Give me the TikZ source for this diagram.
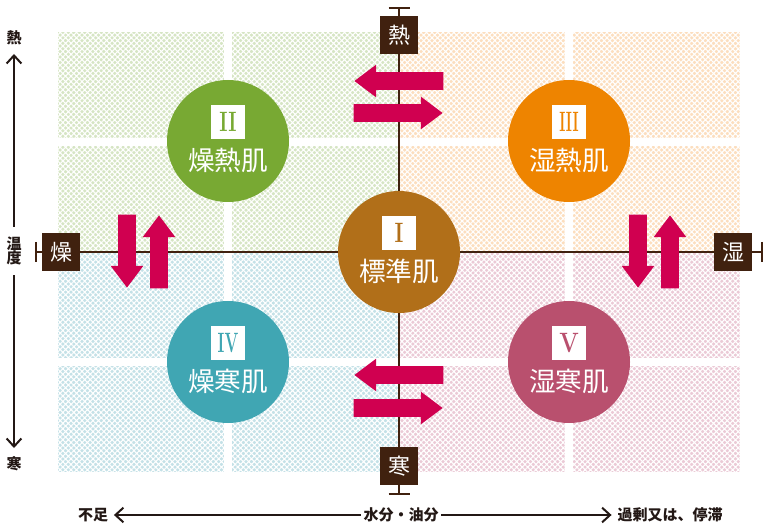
\documentclass[tikz,border=0pt]{standalone}
\usepackage{fontspec}
\usepackage{tikz}
\usetikzlibrary{
    shapes, shapes.arrows, shapes.geometric,
    arrows.meta, positioning, calc,
    patterns.meta
}
\newfontfamily\jpfont{Noto Sans CJK JP}
\definecolor{colGreen}{RGB}{120, 169, 51}
\definecolor{colOrange}{RGB}{238, 132, 0}
\definecolor{colBrown}{RGB}{177, 111, 25}
\definecolor{colTeal}{RGB}{64, 166, 179}
\definecolor{colRose}{RGB}{185, 80, 110}
\definecolor{colRed}{RGB}{208, 0, 80}
\definecolor{colInk}{RGB}{64, 33, 15}
\definecolor{colText}{RGB}{35, 24, 21}
\definecolor{tileGreen}{RGB}{214, 229, 196}
\definecolor{tileOrange}{RGB}{252, 222, 190}
\definecolor{tileBlue}{RGB}{196, 225, 231}
\definecolor{tilePink}{RGB}{235, 202, 214}

\begin{document}
\begin{tikzpicture}[x=0.75pt, y=-0.75pt, every node/.style={font=\jpfont},
    tile/.style={fill=#1, postaction={pattern={Hatch[angle=45, distance=2.9pt, line width=0.8pt]}, pattern color=white}},
    axisline/.style={draw=colInk, line width=1.5pt},
    axisbox/.style={fill=colInk, text=white, minimum width=28.5pt, minimum height=29pt, inner sep=0pt, font=\jpfont\fontsize{16.5}{16.5}\selectfont},
    skin/.style={circle, fill=#1, minimum size=91.5pt, inner sep=0pt},
    skinname/.style={text=white, inner sep=0pt, font=\jpfont\fontsize{20}{20}\selectfont},
    romanbox/.style={fill=white, minimum size=25.5pt, inner sep=0pt, font=\bfseries\fontsize{21}{21}\selectfont},
    flow/.style={single arrow, anchor=tip, fill=colRed, draw=none, inner xsep=0pt, inner ysep=6.4pt, minimum width=0pt, minimum height=66.75pt, single arrow head extend=5.6pt, single arrow tip angle=74},
    flowv/.style={flow, minimum height=54.75pt},
    axislbl/.style={text=colText, inner sep=2pt, font=\jpfont\bfseries\fontsize{11.25}{13}\selectfont},
    axisarrow/.style={draw=colText, line width=1.5pt, -{Straight Barb[length=6pt, width=11pt]}}
]
    \useasboundingbox (0, 0) rectangle (770, 530);

    % --- Background tiles ---
    \foreach \qx/\qy/\tc in {58/32/tileGreen, 399/32/tileOrange, 58/252/tileBlue, 399/252/tilePink} {
        \foreach \dx/\w in {0/166, 174/167} {
            \foreach \dy/\h in {0/106, 114/106} {
                \path[tile=\tc] (\qx+\dx, \qy+\dy) rectangle ++(\w, \h);
            }
        }
    }

    % --- Main axes ---
    \coordinate (topT) at (399, 8);
    \coordinate (botT) at (399, 494);
    \coordinate (leftT) at (36, 252);
    \coordinate (rightT) at (762, 252);
    \draw[axisline] (topT) -- (botT);
    \draw[axisline] (leftT) -- (rightT);
    \draw[axisline] ($(topT)+(-10.5, 0)$) -- ($(topT)+(10.5, 0)$);
    \draw[axisline] ($(botT)+(-10.5, 0)$) -- ($(botT)+(10.5, 0)$);
    \draw[axisline] ($(leftT)+(0, -10)$) -- ($(leftT)+(0, 10)$);
    \draw[axisline] ($(rightT)+(0, -10)$) -- ($(rightT)+(0, 10)$);

    \node[axisbox] (heat) at (399, 35) {熱};
    \node[axisbox] (cold) at (399, 466) {寒};
    \node[axisbox] (dry) at (61, 252) {燥};
    \node[axisbox] (moist) at (733, 252) {湿};

    % --- Skin types ---
    \foreach \nm/\c/\x/\y/\sx/\num/\txt in {
        dryheat/colGreen/228/141/0.7/II/燥熱肌,
        moistheat/colOrange/569/141/0.52/III/湿熱肌,
        standard/colBrown/399/252/0.75/I/標準肌,
        drycold/colTeal/228/362/0.58/IV/燥寒肌,
        moistcold/colRose/569/362/0.82/V/湿寒肌} {
        \node[skin=\c] (\nm) at (\x, \y) {};
        \node[romanbox, text=\c] (\nm-num) at ($(\nm)+(0, -19)$) {\scalebox{\sx}[1]{\num}};
        \node[skinname] (\nm-name) at ($(\nm)+(0, 19)$) {\txt};
    }

    % --- Shift arrows (placed by their tips) ---
    \node[flow, rotate=180] (heatL) at (354, 81) {};
    \node[flow] (heatR) at (443, 113) {};
    \node[flow, rotate=180] (coldL) at (354, 375) {};
    \node[flow] (coldR) at (443, 408) {};
    \node[flowv, rotate=-90] (dryD) at (127, 288) {};
    \node[flowv, rotate=90] (dryU) at (159, 215) {};
    \node[flowv, rotate=-90] (moistD) at (638, 288) {};
    \node[flowv, rotate=90] (moistU) at (670, 215) {};

    % --- Temperature scale ---
    \node[axislbl] (hotlbl) at (14, 38) {熱};
    \node[axislbl, align=center, minimum height=36pt] (templbl) at (14, 251) {温\\[-2pt]度};
    \node[axislbl] (coldlbl) at (14, 464) {寒};
    \coordinate (hottip) at (14, 54);
    \coordinate (coldtip) at (14, 448);
    \draw[axisarrow] (templbl.north) -- (hottip);
    \draw[axisarrow] (templbl.south) -- (coldtip);

    % --- Water / oil scale ---
    \node[axislbl] (water) at (401, 515) {水分・油分};
    \node[axislbl] (short) at (93, 515) {不足};
    \node[axislbl] (excess) at (670, 515) {過剰又は、停滞};
    \draw[axisarrow] (water.west) -- ($(short.east)+(3, 0)$);
    \draw[axisarrow] (water.east) -- ($(excess.west)+(-3, 0)$);
\end{tikzpicture}
\end{document}
